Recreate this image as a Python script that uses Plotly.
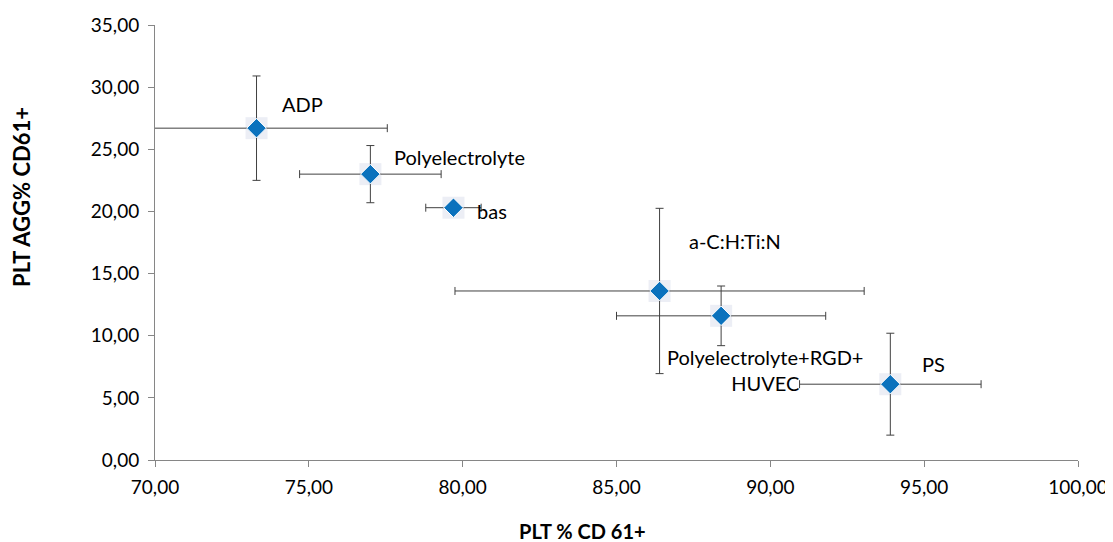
import plotly.graph_objects as go

labels = ["ADP", "Polyelectrolyte", "bas", "a-C:H:Ti:N", "Polyelectrolyte+RGD+<br>HUVEC", "PS"]
x_vals = [73.3, 77.0, 79.7, 86.4, 88.4, 93.9]
y_vals = [26.7, 23.0, 20.3, 13.6, 11.6, 6.1]
x_err = [4.25, 2.3, 0.9, 6.65, 3.4, 2.95]
y_err = [4.2, 2.3, 0.3, 6.65, 2.4, 4.1]

x_ticks = [70, 75, 80, 85, 90, 95, 100]
y_ticks = [0, 5, 10, 15, 20, 25, 30, 35]

def fmt(v):
    return f"{v:.2f}".replace(".", ",")

FONT = "Lato"

fig = go.Figure()
# faint glow behind markers
fig.add_trace(go.Scatter(
    x=x_vals, y=y_vals, mode="markers",
    marker=dict(symbol="square", size=22, color="rgba(200,205,225,0.35)", line=dict(width=0)),
    hoverinfo="skip", showlegend=False,
))
fig.add_trace(go.Scatter(
    x=x_vals, y=y_vals, mode="markers",
    marker=dict(symbol="diamond", size=15, color="#0b72bd", line=dict(width=1, color="white")),
    error_x=dict(type="data", array=x_err, color="#404040", thickness=1, width=4),
    error_y=dict(type="data", array=y_err, color="#404040", thickness=1, width=4),
    showlegend=False,
))

# label offsets (axis units) relative to each point
offsets = [(0.76, 1.94), (0.70, 1.38), (0.70, -0.27), (0.89, 4.0), (1.42, -4.32), (0.96, 1.6)]
for lab, xv, yv, (dx, dy) in zip(labels, x_vals, y_vals, offsets):
    centered = "HUVEC" in lab
    fig.add_annotation(x=xv + dx, y=yv + dy, text=lab, showarrow=False,
                       xanchor="center" if centered else "left", yanchor="middle",
                       align="center" if centered else "left",
                       font=dict(family=FONT, size=20, color="black"))

# axis titles
fig.add_annotation(xref="paper", yref="paper", x=0.4635, y=-0.163, text="<b>PLT % CD 61+</b>",
                   showarrow=False, xanchor="center", yanchor="middle",
                   font=dict(family=FONT, size=20, color="black"))
fig.add_annotation(xref="paper", yref="paper", x=-0.144, y=0.605, text="<b>PLT AGG% CD61+</b>",
                   showarrow=False, xanchor="center", yanchor="middle", textangle=-90,
                   font=dict(family=FONT, size=22, color="black"))

fig.update_layout(
    width=1113, height=542,
    margin=dict(l=147, r=43, t=17, b=90),
    paper_bgcolor="white", plot_bgcolor="white",
    font=dict(family=FONT, size=19, color="black"),
)
fig.update_xaxes(
    range=[70, 100], tickvals=x_ticks, ticktext=[fmt(v) for v in x_ticks],
    showgrid=False, zeroline=False, showline=True, linecolor="#868686", linewidth=1,
    ticks="outside", ticklen=6, tickcolor="#868686", ticklabelstandoff=4,
    automargin=False,
)
fig.update_yaxes(
    range=[0, 35], tickvals=y_ticks, ticktext=[fmt(v) for v in y_ticks],
    showgrid=False, zeroline=False, showline=True, linecolor="#868686", linewidth=1,
    ticks="outside", ticklen=6, tickcolor="#868686", ticklabelstandoff=5,
    automargin=False,
)

fig.write_html("out.html")
